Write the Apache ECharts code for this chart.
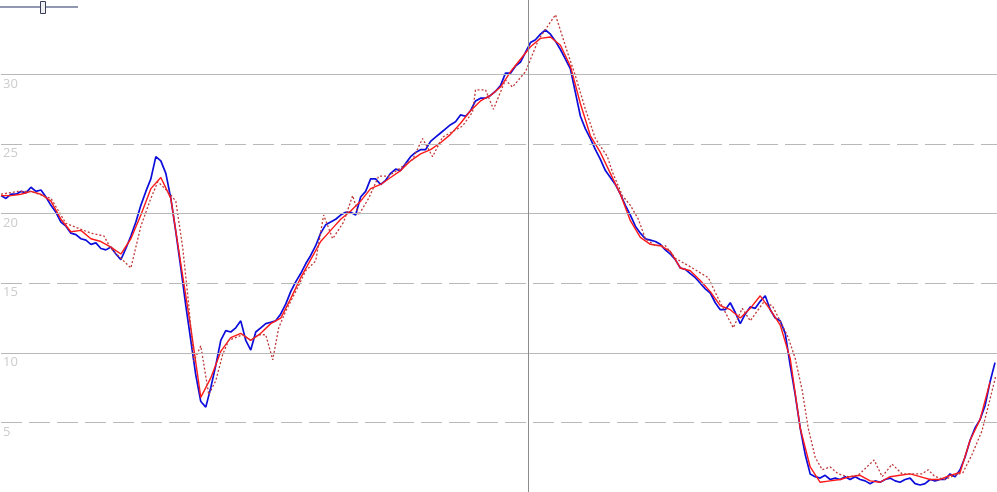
<!DOCTYPE html>
<html>
<head>
<meta charset="utf-8">
<script src="https://cdn.jsdelivr.net/npm/echarts@6/dist/echarts.min.js"></script>
<style>
  html, body { margin: 0; padding: 0; background: #fff; }
  #chart { width: 997px; height: 492px; }
</style>
</head>
<body>
<div id="chart"></div>
<script>
// one raw sample per day
const rawValues = [
  21.3, 21.1, 21.4, 21.4, 21.6, 21.5, 21.9, 21.6, 21.7, 21.2,
  20.6, 20.1, 19.4, 19.1, 18.6, 18.5, 18.2, 18.1, 17.8, 17.9,
  17.5, 17.4, 17.6, 17.1, 16.7, 17.5, 18.4, 19.4, 20.6, 21.6,
  22.5, 24.1, 23.8, 22.9, 21.1, 18.7, 16.1, 13.4, 10.9, 8.4,
  6.5, 6.1, 7.5, 9.1, 10.9, 11.6, 11.5, 11.8, 12.3, 10.9,
  10.2, 11.5, 11.8, 12.1, 12.2, 12.3, 12.8, 13.5, 14.4, 15.1,
  15.7, 16.4, 17.0, 17.7, 18.6, 19.2, 19.4, 19.6, 19.9, 20.1,
  20.1, 19.9, 21.2, 21.6, 22.5, 22.5, 22.1, 22.4, 22.9, 23.2,
  23.1, 23.6, 24.1, 24.4, 24.6, 24.6, 25.2, 25.5, 25.8, 26.1,
  26.4, 26.6, 27.1, 27.0, 27.4, 28.1, 28.3, 28.3, 28.5, 28.8,
  29.2, 30.1, 30.1, 30.6, 30.9, 31.6, 32.3, 32.5, 32.9, 33.2,
  32.9, 32.4, 31.8, 31.1, 30.4, 28.7, 27.0, 26.1, 25.4, 24.6,
  23.9, 23.1, 22.6, 22.1, 21.4, 20.6, 19.9, 19.1, 18.6, 18.2,
  18.1, 18.0, 17.8, 17.4, 17.1, 16.7, 16.1, 16.0, 15.7, 15.4,
  15.0, 14.6, 14.3, 13.6, 13.1, 13.1, 13.6, 12.9, 12.1, 12.8,
  13.3, 13.2, 13.7, 14.1, 13.1, 12.5, 12.3, 11.4, 9.1, 7.0,
  4.6, 2.7, 1.3, 1.1, 1.0, 1.2, 0.9, 1.0, 0.9, 1.1,
  0.9, 1.1, 0.9, 0.8, 0.6, 0.8, 0.7, 0.9, 1.0, 0.8,
  0.7, 0.9, 1.0, 0.6, 0.5, 0.6, 0.9, 0.8, 0.9, 0.9,
  1.3, 1.1, 1.6, 2.5, 3.7, 4.6, 5.2, 6.2, 7.9, 9.3
];

// smoothed curve, one value every 2 days
const smoothValues = [
  21.3, 21.3, 21.4, 21.6, 21.4, 20.9, 19.6, 18.7, 18.8, 18.2,
  18.0, 17.6, 17.1, 18.2, 19.9, 21.8, 22.6, 21.1, 16.4, 11.8,
  6.8, 8.2, 10.1, 11.1, 11.4, 10.9, 11.4, 12.1, 12.5, 13.9,
  15.4, 16.7, 18.0, 18.8, 19.6, 20.2, 20.9, 21.8, 22.1, 22.6,
  23.1, 23.8, 24.3, 24.6, 25.1, 25.7, 26.5, 27.4, 28.1, 28.5,
  29.1, 30.2, 31.1, 32.0, 32.6, 32.7, 32.1, 30.6, 27.9, 25.6,
  24.4, 22.9, 21.4, 19.5, 18.3, 17.8, 17.7, 17.3, 16.1, 15.9,
  15.2, 14.4, 13.4, 13.1, 12.5, 13.2, 14.1, 13.1, 12.0, 9.6,
  4.6, 1.8, 0.7, 0.8, 0.9, 1.1, 1.2, 0.8, 0.7, 1.1,
  1.2, 1.3, 1.1, 0.9, 0.9, 1.2, 1.4, 3.7, 5.2, 7.9
];

// coarse (lagging) estimate, irregular days
const coarseDays = [
  0, 3.4, 6, 10, 13, 18, 20.6, 22, 26, 28,
  30, 31.4, 33.4, 35, 36.4, 37.6, 38.6, 40, 41.6, 43,
  44.4, 45.6, 48.4, 50, 51.6, 53, 54.4, 55.6, 57, 59,
  61, 63, 64.6, 66.4, 68.6, 70.4, 71.6, 73.6, 75.6, 77.6,
  80.4, 82.4, 84.4, 86.4, 88.4, 90.4, 92.4, 94.4, 95, 97,
  98.6, 100.4, 101, 102.4, 105, 107.6, 111, 113.4, 115, 117,
  119, 121.4, 122.4, 124.4, 126, 127.6, 129, 131, 133, 135,
  138.4, 141.6, 143.6, 146.6, 148.4, 150, 152.6, 154.4, 156.4, 157.6,
  159, 160.4, 161.6, 163, 164.4, 166, 167.6, 169.6, 171.6, 174.8,
  176.4, 178.4, 180.4, 184.4, 185.6, 187, 189, 191, 192.6, 194.4,
  196.4, 197.6, 199.2
];
const coarseValues = [
  21.4, 21.6, 21.6, 21.1, 19.3, 18.6, 18.4, 17.5, 16.1, 19.1,
  21.1, 22.3, 21.6, 20.9, 17.5, 13.4, 9.4, 10.5, 7.0, 8.0,
  9.9, 10.9, 11.3, 10.9, 11.3, 11.3, 9.5, 11.8, 13.0, 14.4,
  15.9, 16.6, 19.9, 18.2, 19.4, 21.3, 19.9, 21.1, 22.7, 22.7,
  23.4, 23.9, 25.4, 24.1, 25.5, 25.9, 26.3, 27.3, 28.9, 28.9,
  27.5, 29.1, 29.6, 29.1, 30.2, 32.5, 34.3, 31.6, 29.9, 27.5,
  25.4, 24.1, 23.0, 21.3, 20.6, 19.6, 18.2, 17.7, 17.7, 16.8,
  16.1, 15.4, 13.9, 11.8, 13.2, 12.3, 13.6, 13.4, 12.0, 11.1,
  9.6, 7.3, 4.6, 2.5, 1.6, 1.8, 1.3, 1.1, 1.2, 2.3,
  1.1, 2.0, 1.3, 1.3, 1.6, 1.1, 0.9, 1.2, 1.4, 2.7,
  4.4, 6.1, 8.4
];

const solidLevels = [10, 20, 30];
const dashedLevels = [5, 15, 25];
const markerDay = 105.6;
const lastDay = 199.4;

const rawData = rawValues.map((v, i) => [i, v]);
const smoothData = smoothValues.map((v, i) => [i * 2, v]);
const coarseData = coarseDays.map((d, i) => [d, coarseValues[i]]);

const gridLines = solidLevels.map(v => ({ yAxis: v, lineStyle: { color: '#b8b8b8', type: 'solid', width: 1 } }))
  .concat(dashedLevels.map(v => ({ yAxis: v, lineStyle: { color: '#b8b8b8', type: [21, 7], width: 1 } })))
  .concat([{ xAxis: markerDay, lineStyle: { color: '#8c8c8c', type: 'solid', width: 1 } }]);

const chart = echarts.init(document.getElementById('chart'));
chart.setOption({
  animation: false,
  grid: { left: 0, right: 0, top: 0, bottom: -3 },
  xAxis: {
    type: 'value',
    min: 0,
    max: lastDay,
    show: false
  },
  yAxis: {
    type: 'value',
    min: 0,
    max: 35.357,
    interval: 5,
    axisLine: { show: false },
    axisTick: { show: false },
    splitLine: { show: false },
    axisLabel: {
      inside: true,
      margin: 2,
      verticalAlign: 'top',
      padding: [3, 0, 0, 0],
      color: '#cccccc',
      fontFamily: 'Open Sans',
      fontSize: 13,
      formatter: v => (v > 0 && v <= 30 ? String(v) : '')
    }
  },
  graphic: [
    { type: 'line', shape: { x1: 0, y1: 7, x2: 78, y2: 7 }, style: { stroke: '#23305e', lineWidth: 1 } },
    { type: 'rect', shape: { x: 40.5, y: 1.5, width: 5, height: 12 }, style: { fill: '#eef0f4', stroke: '#3a3f55', lineWidth: 1 } }
  ],
  series: [
    {
      type: 'line',
      data: [],
      silent: true,
      z: 1,
      markLine: { silent: true, symbol: 'none', label: { show: false }, data: gridLines }
    },
    {
      name: 'raw',
      type: 'line',
      data: rawData,
      showSymbol: false,
      z: 2,
      lineStyle: { color: '#0c0cdc', width: 1.7 }
    },
    {
      name: 'smooth',
      type: 'line',
      data: smoothData,
      showSymbol: false,
      z: 3,
      lineStyle: { color: '#ff1a1a', width: 1.4 }
    },
    {
      name: 'coarse',
      type: 'line',
      data: coarseData,
      showSymbol: false,
      z: 4,
      lineStyle: { color: '#c03838', width: 1.3, type: [2, 2] }
    }
  ]
});
</script>
</body>
</html>
